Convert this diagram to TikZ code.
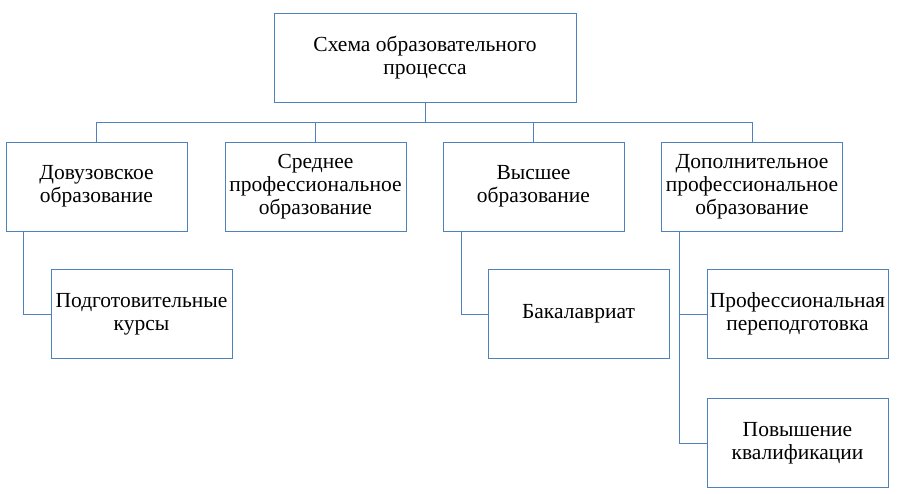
\documentclass[tikz,border=0pt]{standalone}
\usepackage{fontspec}
\setmainfont{Liberation Serif}
\definecolor{boxblue}{RGB}{79,129,189}
\tikzset{
  block/.style={draw=boxblue, line width=0.9pt, minimum width=181pt, minimum height=89pt,
    align=center, inner sep=1pt, font=\fontsize{21.5}{23}\selectfont},
  link/.style={draw=boxblue, line width=0.9pt}
}
\begin{document}
\begin{tikzpicture}[x=1pt,y=-1pt]
\useasboundingbox (0,0) rectangle (899,494);
\node[block, minimum width=302pt] (top) at (425,58) {Схема образовательного\\процесса};
\node[block] (pre) at (96.5,186.5) {Довузовское\\образование};
\node[block] (spo) at (315.5,186.5) {Среднее\\профессиональное\\образование};
\node[block] (vo) at (533.5,186.5) {Высшее\\образование};
\node[block] (dpo) at (752,186.5) {Дополнительное\\профессиональное\\образование};
\node[block] (kurs) at (141.5,314) {Подготовительные\\курсы};
\node[block] (bak) at (578.5,314) {Бакалавриат};
\node[block] (pp) at (797.5,314) {Профессиональная\\переподготовка};
\node[block] (pk) at (797.5,443) {Повышение\\квалификации};
\coordinate (bus) at (425,122);
\draw[link] (top.south) -- (bus);
\draw[link] (bus) -| (pre.north);
\draw[link] (bus) -| (spo.north);
\draw[link] (bus) -| (vo.north);
\draw[link] (bus) -| (dpo.north);
\draw[link] ([xshift=18pt]pre.south west) |- (kurs.west);
\draw[link] ([xshift=18.5pt]vo.south west) |- (bak.west);
\draw[link] ([xshift=18.5pt]dpo.south west) |- (pp.west);
\draw[link] ([xshift=18.5pt]dpo.south west) |- (pk.west);
\end{tikzpicture}
\end{document}
